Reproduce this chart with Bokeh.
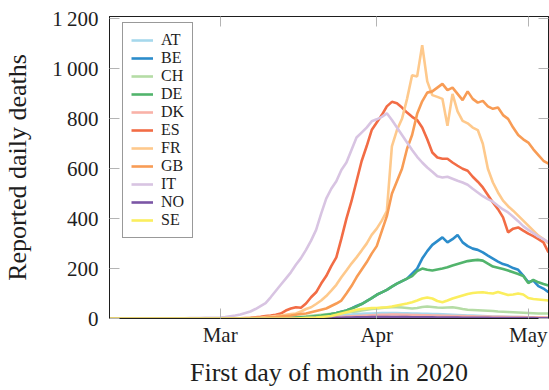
import pandas as pd
from datetime import timedelta
from bokeh.plotting import figure
from bokeh.models import (Range1d, FixedTicker, DatetimeTickFormatter, DatetimeAxis, LinearAxis)
from bokeh.embed import file_html
from bokeh.resources import INLINE

# ---------------- data (daily reported deaths, 2020-02-08 .. 2020-05-05) ----------------
START_DATE = "2020-02-08"
N_DAYS = 88
COUNTRIES = ["AT", "BE", "CH", "DE", "DK", "ES", "FR", "GB", "IT", "NO", "SE"]
COLORS = ["#a6d8ec", "#2b8ccb", "#b5dca5", "#52b46c", "#f9b2a8", "#f26c45",
          "#fec98c", "#f89c55", "#d8c4e2", "#7b56a5", "#fbee5e"]
MONTH_TICKS = ["2020-03-01", "2020-04-01", "2020-05-01"]
Y_TICKS = [0, 200, 400, 600, 800, 1000, 1200]
Y_TICK_LABELS = {1000: "1\u2009000", 1200: "1\u2009200"}

FEB_ZERO = [0, 0, 0, 0, 0, 0, 0, 0, 0, 0, 0, 0, 0, 0, 0, 0, 0, 0, 0, 0, 0, 0]

AT = FEB_ZERO + [0, 0, 0, 0, 0, 0, 0, 0, 0, 0, 0, 0, 1, 1, 2, 2, 3, 4, 5, 6, 8, 9, 10, 12, 14, 15, 16, 18, 19, 20, 20] \
    + [21, 22, 22, 22, 22, 21, 21, 20, 20, 19, 19, 18, 18, 17, 16, 15, 14, 13, 12, 12, 11, 10, 9, 8, 8, 7, 7, 6, 6, 5] \
    + [5, 4, 4, 4, 3]
BE = FEB_ZERO + [0, 0, 0, 0, 0, 0, 0, 0, 0, 0, 0, 0, 0, 1, 2, 3, 4, 5, 6, 8, 11, 14, 18, 22, 27, 32, 40, 50, 58, 70, 82] \
    + [95, 105, 115, 128, 140, 150, 160, 180, 200, 240, 270, 295, 310, 325, 305, 318, 335, 305, 290, 280,
       275, 265, 252, 240, 228, 218, 212, 202, 195, 172] \
    + [145, 152, 130, 120, 105]
CH = FEB_ZERO + [0, 0, 0, 0, 0, 0, 0, 0, 0, 0, 0, 0, 0, 2, 3, 5, 7, 9, 11, 13, 15, 17, 19, 21, 23, 24, 26, 28, 32, 35, 38] \
    + [40, 42, 44, 45, 45, 44, 42, 40, 42, 46, 48, 46, 44, 43, 44, 45, 42, 38, 35, 34, 33, 32, 31, 30, 28, 27, 26, 25, 24, 23] \
    + [22, 21, 20, 20, 20]
DE = FEB_ZERO + [0, 0, 0, 0, 0, 0, 0, 0, 0, 0, 1, 1, 2, 2, 3, 4, 5, 6, 8, 10, 12, 15, 18, 22, 27, 32, 40, 48, 58, 70, 82] \
    + [95, 105, 115, 128, 140, 150, 160, 170, 190, 200, 195, 192, 196, 200, 205, 212, 218, 224, 230, 233,
       235, 232, 220, 208, 203, 198, 192, 185, 178, 170] \
    + [142, 155, 145, 138, 132]
DK = FEB_ZERO + [0, 0, 0, 0, 0, 0, 0, 0, 0, 0, 0, 0, 0, 0, 0, 1, 1, 2, 2, 3, 3, 4, 5, 6, 7, 8, 9, 10, 11, 12, 13] \
    + [14, 15, 15, 16, 16, 15, 15, 14, 14, 13, 13, 12, 12, 11, 11, 10, 10, 10, 9, 9, 8, 8, 8, 7, 7, 7, 6, 6, 6, 6] \
    + [5, 5, 5, 5, 4]
ES = FEB_ZERO + [0, 0, 0, 1, 1, 2, 3, 5, 7, 10, 12, 15, 20, 32, 40, 45, 43, 60, 85, 105, 140, 170, 210, 245, 320, 400,
                 470, 550, 630, 690, 755] \
    + [785, 815, 850, 868, 862, 845, 825, 808, 795, 765, 718, 665, 645, 640, 640, 625, 612, 600, 592, 568,
       548, 525, 495, 465, 438, 405, 345, 360, 365, 352] \
    + [340, 330, 318, 305, 265]
FR = FEB_ZERO + [0, 0, 0, 0, 1, 1, 2, 3, 4, 6, 8, 10, 12, 15, 18, 20, 28, 38, 45, 58, 72, 90, 112, 135, 165, 192,
                 220, 245, 272, 300, 335] \
    + [360, 392, 430, 690, 755, 800, 880, 975, 970, 1095, 950, 895, 888, 880, 772, 900, 830, 792, 782, 765,
       755, 700, 600, 545, 505, 472, 450, 432, 412, 392] \
    + [372, 352, 332, 318, 302]
GB = FEB_ZERO + [0, 0, 0, 0, 0, 0, 1, 1, 2, 3, 5, 6, 8, 10, 12, 15, 18, 20, 25, 30, 35, 40, 50, 60, 72, 100, 130, 165,
                 195, 225, 260] \
    + [290, 350, 410, 500, 550, 600, 680, 735, 820, 870, 905, 910, 925, 940, 915, 925, 900, 875, 910, 880,
       865, 872, 850, 840, 845, 815, 800, 765, 735, 718] \
    + [705, 678, 655, 632, 620]
IT = [0, 0, 0, 0, 0, 0, 0, 0, 0, 0, 0, 0, 0, 0, 1, 1, 2, 2, 2, 3, 3, 3] \
    + [4, 6, 9, 12, 16, 22, 28, 38, 50, 62, 85, 110, 135, 160, 185, 215, 242, 275, 312, 355, 420, 480, 520, 550,
       595, 625, 675, 725, 745, 765, 790] \
    + [798, 808, 822, 795, 765, 735, 705, 675, 648, 625, 605, 588, 570, 565, 568, 560, 552, 545, 536, 520,
       505, 490, 478, 468, 452, 437, 425, 408, 390, 370] \
    + [355, 342, 328, 318, 305]
NO = FEB_ZERO + [0, 0, 0, 0, 0, 0, 0, 0, 0, 0, 0, 0, 0, 0, 0, 0, 1, 1, 1, 2, 2, 2, 3, 3, 3, 4, 4, 5, 5, 5, 6] \
    + [6, 6, 6, 6, 6, 6, 6, 5, 5, 5, 5, 5, 4, 4, 4, 4, 4, 3, 3, 3, 3, 3, 3, 2, 2, 2, 2, 2, 2, 2] \
    + [2, 2, 1, 1, 1]
SE = FEB_ZERO + [0, 0, 0, 0, 0, 0, 0, 0, 0, 0, 0, 0, 0, 0, 0, 0, 1, 2, 3, 4, 6, 8, 10, 15, 20, 25, 30, 35, 38, 40, 42] \
    + [42, 44, 45, 48, 52, 56, 60, 65, 72, 80, 84, 80, 70, 65, 72, 80, 86, 92, 98, 102,
       104, 105, 102, 100, 106, 100, 94, 96, 100, 96] \
    + [82, 78, 76, 74, 72]

SERIES = [AT, BE, CH, DE, DK, ES, FR, GB, IT, NO, SE]
dates = pd.date_range(START_DATE, periods=N_DAYS, freq="D")

# ---------------- figure ----------------
FONT = "Liberation Serif"
DARK = "#1e1e1e"
TICK_GREY = "#b4b4b4"

mar1 = pd.Timestamp("2020-03-01")
p = figure(width=549, height=390, x_axis_type="datetime",
           x_range=Range1d(mar1 - timedelta(days=21.9), mar1 + timedelta(days=65.0)),
           y_range=Range1d(0, 1210),
           output_backend="svg", toolbar_location=None,
           min_border_left=107, min_border_right=1, min_border_top=16, min_border_bottom=72)

for name, vals, col in zip(COUNTRIES, SERIES, COLORS):
    p.line(dates, vals, line_color=col, line_width=2.6, legend_label=name)

p.xgrid.visible = False
p.ygrid.visible = False
p.outline_line_color = DARK
p.outline_line_width = 1
p.background_fill_color = "white"

month_ms = [pd.Timestamp(m).value // 10**6 for m in MONTH_TICKS]
fmt = DatetimeTickFormatter(months="%b", days="%b", hours="%b", hourmin="%b", minutes="%b",
                            minsec="%b", seconds="%b", milliseconds="%b", microseconds="%b", years="%b")

xa = p.xaxis[0]
xa.ticker = FixedTicker(ticks=month_ms)
xa.formatter = fmt
xa.axis_label = "First day of month in 2020"

ya = p.yaxis[0]
ya.ticker = FixedTicker(ticks=Y_TICKS)
ya.major_label_overrides = Y_TICK_LABELS
ya.axis_label = "Reported daily deaths"

for ax in (xa, ya):
    ax.major_tick_in = 10
    ax.major_tick_out = 0
    ax.minor_tick_line_color = None
    ax.major_tick_line_color = TICK_GREY
    ax.major_tick_line_width = 1
    ax.axis_line_color = DARK
    ax.major_label_text_font = FONT
    ax.major_label_text_font_size = "21px"
    ax.major_label_text_color = DARK
    ax.axis_label_text_font = FONT
    ax.axis_label_text_font_size = "26px"
    ax.axis_label_text_font_style = "normal"
    ax.axis_label_text_color = DARK

xa.major_label_standoff = 4
xa.axis_label_standoff = 8
ya.major_label_standoff = 11
ya.axis_label_standoff = 17

# mirrored tick marks on top and right sides
top = DatetimeAxis(ticker=FixedTicker(ticks=month_ms), formatter=fmt)
right = LinearAxis(ticker=FixedTicker(ticks=Y_TICKS))
for ax in (top, right):
    ax.major_tick_in = 10
    ax.major_tick_out = 0
    ax.minor_tick_line_color = None
    ax.major_tick_line_color = TICK_GREY
    ax.axis_line_color = DARK
    ax.major_label_text_font_size = "0px"
    ax.major_label_text_alpha = 0
    ax.major_label_standoff = 0
p.add_layout(top, "above")
p.add_layout(right, "right")

lg = p.legend[0]
lg.location = (13, 80)
lg.border_line_color = "#333333"
lg.border_line_width = 1
lg.background_fill_color = "white"
lg.background_fill_alpha = 1
lg.padding = 8
lg.spacing = 0
lg.margin = 0
lg.label_height = 18
lg.glyph_height = 18
lg.glyph_width = 22
lg.label_standoff = 8
lg.label_text_font = FONT
lg.label_text_font_size = "16px"
lg.label_text_color = DARK

open("out.html", "w").write(file_html(p, INLINE))
